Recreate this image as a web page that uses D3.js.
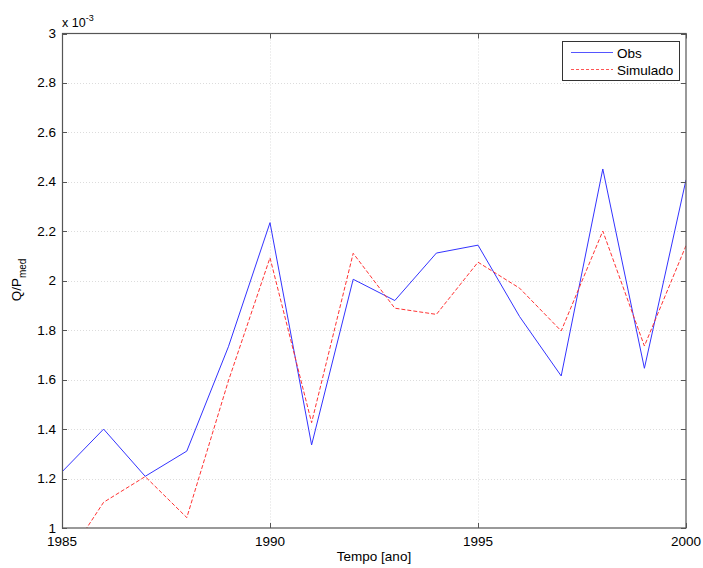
<!DOCTYPE html>
<html><head><meta charset="utf-8">
<script src="https://cdn.jsdelivr.net/npm/d3@7"></script>
<style>body{margin:0;background:#fff}svg{display:block}text{font-family:"Liberation Sans",Arial,sans-serif;fill:#000}</style>
</head><body><svg id="c" width="703" height="568"></svg>
<script>
const years = [1985,1986,1987,1988,1989,1990,1991,1992,1993,1994,1995,1996,1997,1998,1999,2000];
const obs = [1.227,1.400,1.209,1.311,1.733,2.235,1.336,2.006,1.920,2.112,2.144,1.855,1.615,2.452,1.646,2.408];
const sim = [0.848,1.104,1.208,1.042,1.595,2.093,1.426,2.111,1.889,1.864,2.075,1.970,1.797,2.201,1.736,2.142];
const xTicks = [1985,1990,1995,2000];
const yTicks = [1,1.2,1.4,1.6,1.8,2,2.2,2.4,2.6,2.8,3];
const seriesNames = ["Obs","Simulado"];

const svg = d3.select("#c");
const L=62,R=686,T=33.5,B=528;
const x = d3.scaleLinear().domain([1985,2000]).range([L,R]);
const y = d3.scaleLinear().domain([1,3]).range([B,T]);

svg.append("defs").append("clipPath").attr("id","clip").append("rect")
  .attr("x",L).attr("y",T).attr("width",R-L).attr("height",B-T);

// grid
const g = svg.append("g");
g.selectAll(".gy").data(yTicks.slice(1,-1)).enter().append("line")
  .attr("x1",L).attr("x2",R).attr("y1",d=>Math.round(y(d))+0.5).attr("y2",d=>Math.round(y(d))+0.5)
  .attr("stroke","#dcdcdc").attr("stroke-dasharray","1,2");
g.selectAll(".gx").data(xTicks.slice(1,-1)).enter().append("line")
  .attr("y1",T).attr("y2",B).attr("x1",d=>Math.round(x(d))+0.5).attr("x2",d=>Math.round(x(d))+0.5)
  .attr("stroke","#dcdcdc").attr("stroke-dasharray","1,2");

// lines
const line = d3.line().x((d,i)=>x(years[i])).y(d=>y(d));
const lg = svg.append("g").attr("clip-path","url(#clip)");
lg.append("path").datum(obs).attr("d",line).attr("fill","none").attr("stroke","#3333ff").attr("stroke-width",1);
lg.append("path").datum(sim).attr("d",line).attr("fill","none").attr("stroke","#ff3333").attr("stroke-width",1).attr("stroke-dasharray","4,2");

// axes with inside ticks
const ax = svg.append("g").attr("stroke","#555");
const tk=5;
yTicks.forEach(v=>{
  const yy=Math.round(y(v))+0.5;
  ax.append("line").attr("x1",L).attr("x2",L+tk).attr("y1",yy).attr("y2",yy);
  ax.append("line").attr("x1",R-tk).attr("x2",R).attr("y1",yy).attr("y2",yy);
});
xTicks.forEach(v=>{
  const xx=Math.round(x(v))+0.5;
  ax.append("line").attr("y1",B).attr("y2",B-tk).attr("x1",xx).attr("x2",xx);
  ax.append("line").attr("y1",T).attr("y2",T+tk).attr("x1",xx).attr("x2",xx);
});
ax.append("rect").attr("x",L+0.5).attr("y",T).attr("width",R-L-0.5).attr("height",B-T).attr("fill","none").attr("stroke-width",1.2);

// tick labels
svg.append("g").selectAll("text").data(yTicks).enter().append("text")
  .attr("x",56).attr("y",d=>y(d)+4.5).attr("text-anchor","end").attr("font-size",13.5).text(d=>d3.format("~g")(d));
svg.append("g").selectAll("text").data(xTicks).enter().append("text")
  .attr("x",d=>x(d)).attr("y",546).attr("text-anchor","middle").attr("font-size",13.5).text(d=>d);

// exponent
const ex = svg.append("text").attr("x",62).attr("y",27).attr("font-size",12.5);
ex.append("tspan").text("x 10");
ex.append("tspan").attr("dy",-6).attr("font-size",9).text("-3");

// labels
svg.append("text").attr("x",374).attr("y",561).attr("text-anchor","middle").attr("font-size",13.5).text("Tempo [ano]");
const yl = svg.append("text").attr("transform","translate(21,280) rotate(-90)").attr("text-anchor","middle").attr("font-size",13.5);
yl.append("tspan").text("Q/P");
yl.append("tspan").attr("dy",5).attr("font-size",10).text("med");

// legend
const leg = svg.append("g");
leg.append("rect").attr("x",562.5).attr("y",41.5).attr("width",117).attr("height",39).attr("fill","#fff").attr("stroke","#333");
const ly=[52.5,69.5];
seriesNames.forEach((n,i)=>{
  leg.append("line").attr("x1",571).attr("x2",613).attr("y1",ly[i]).attr("y2",ly[i])
    .attr("stroke",i?"#ff5555":"#5555ff").attr("stroke-dasharray",i?"3,2":null);
  leg.append("text").attr("x",617).attr("y",ly[i]+5).attr("font-size",13.5).text(n);
});
</script></body></html>
